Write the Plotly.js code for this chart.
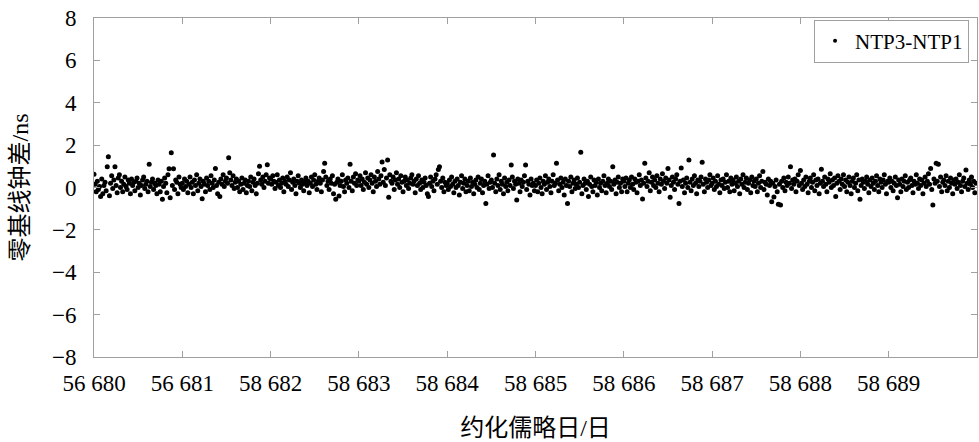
<!DOCTYPE html>
<html>
<head>
<meta charset="utf-8">
<script src="https://cdn.plot.ly/plotly-3.0.1.min.js"></script>
<style>
html,body{margin:0;padding:0;background:#fff;}
#chart{width:979px;height:442px;}
</style>
</head>
<body>
<div id="chart"></div>
<script>
// Sampling: 80 epochs per day, MJD 58680 .. 58690
const startMJD = 58680;
const perDay = 80;

// Clock difference NTP3-NTP1 (ns), one array per day
const day0 = [0.62,0.15,-0.2,0.3,-0.1,0.05,-0.43,0.4,-0.3,0.1,
0.25,-0.15,0.98,1.45,-0.39,0.2,0.55,-0.05,0.35,0.98,
0.1,-0.25,0.45,0.6,0.0,0.3,-0.2,0.15,0.5,0.05,
-0.1,0.35,0.2,-0.3,0.4,0.1,0.25,-0.15,0.3,0.45,
0.0,0.2,-0.35,0.1,0.35,0.5,-0.05,0.15,0.3,-0.2,
1.1,0.05,0.25,0.4,-0.1,0.2,0.1,-0.3,0.35,0.15,
-0.2,0.3,-0.56,0.05,0.45,0.2,-0.25,0.6,0.89,-0.48,
1.64,0.1,0.89,-0.1,0.35,0.25,-0.3,0.5,0.15,0.0];
const day1 = [0.2,-0.1,0.4,0.05,0.3,-0.25,0.15,0.5,0.0,0.25,
-0.3,0.35,0.1,0.6,-0.15,0.2,0.4,0.05,-0.53,0.3,
0.15,-0.2,0.45,0.1,0.3,-0.1,0.55,0.2,0.0,0.35,
0.9,0.1,-0.3,0.25,-0.43,0.4,0.15,0.6,0.05,0.3,
0.45,0.2,1.4,0.7,0.35,0.1,0.55,-0.05,0.25,0.4,
0.0,0.3,-0.2,0.15,0.45,-0.1,0.2,0.35,-0.25,0.1,
0.3,0.05,0.5,-0.15,0.25,0.4,0.1,-0.3,0.2,0.65,
1.0,0.35,0.15,0.5,0.0,0.3,0.6,1.07,0.2,0.45];
const day2 = [0.4,0.15,0.55,0.3,-0.05,0.25,0.6,0.1,0.35,0.0,
0.2,0.45,-0.2,0.3,0.15,0.5,0.05,0.35,0.7,-0.1,
0.25,0.4,0.1,-0.3,0.3,0.55,0.2,0.0,0.35,0.15,
-0.15,0.25,0.45,0.1,0.3,-0.25,0.2,0.5,0.05,0.35,
0.6,0.15,-0.1,0.3,0.45,0.2,-0.2,0.35,0.75,1.14,
0.5,0.1,0.3,-0.1,0.4,0.2,0.55,-0.3,0.15,-0.56,
0.25,0.4,-0.4,0.1,0.3,0.6,0.05,-0.2,0.35,0.2,
0.45,0.0,1.1,0.3,-0.15,0.5,0.2,0.65,0.1,0.35];
const day3 = [0.3,0.55,0.1,0.4,-0.1,0.25,0.7,0.15,0.45,0.0,
0.35,0.6,0.2,-0.2,0.5,0.3,0.05,0.75,0.4,0.15,
0.55,1.2,0.25,0.85,0.1,0.45,1.3,-0.46,0.6,0.3,
0.2,0.5,-0.1,0.35,0.7,0.15,0.4,0.0,0.55,0.25,
-0.2,0.3,0.5,0.1,0.35,-0.05,0.2,0.45,0.6,0.15,
0.3,-0.25,0.4,0.1,0.55,0.2,-0.1,0.35,0.0,0.25,
0.45,0.1,-0.3,-0.43,0.2,0.5,0.05,0.3,-0.15,0.4,
0.6,0.15,0.85,0.98,0.3,0.0,0.45,-0.2,0.25,0.1];
const day4 = [0.2,-0.1,0.35,0.05,0.5,0.15,-0.25,0.3,0.0,0.4,
0.1,-0.35,0.25,0.55,-0.05,0.2,0.4,-0.2,0.1,0.3,
-0.15,0.45,0.05,0.25,-0.3,0.15,0.35,0.0,0.5,-0.1,
0.2,0.4,-0.25,0.1,0.3,-0.75,0.15,0.55,-0.05,0.25,
0.35,0.0,1.53,0.2,-0.2,0.4,0.1,0.6,-0.1,0.3,
0.15,-0.3,0.45,0.05,0.25,-0.15,0.35,0.1,1.06,0.5,
-0.05,0.3,0.15,-0.59,0.4,0.2,-0.2,0.35,0.05,0.25,
0.55,1.06,-0.1,0.3,0.15,-0.35,0.4,0.1,0.2,-0.15];
const day5 = [0.1,0.35,-0.2,0.2,0.45,0.0,-0.3,0.3,0.15,0.55,
-0.1,0.25,0.4,0.05,-0.25,0.3,0.6,0.1,0.2,1.14,
0.35,-0.15,0.15,0.45,0.0,0.25,-0.35,0.4,0.1,-0.75,
0.3,0.05,0.5,-0.2,0.2,0.35,-0.05,0.15,0.45,0.0,
0.25,1.66,-0.3,0.1,0.4,0.2,-0.1,0.3,-0.43,0.15,
0.5,0.05,-0.2,0.35,0.1,0.25,-0.35,0.4,0.0,0.2,
-0.15,0.3,0.55,0.1,-0.25,0.2,0.4,0.05,0.3,-0.1,
0.98,0.15,0.35,-0.3,0.25,0.5,0.0,0.2,-0.2,0.4];
const day6 = [0.3,0.05,0.45,-0.2,0.2,0.35,0.0,0.5,0.15,-0.1,
0.4,0.25,-0.25,0.3,0.6,0.1,0.35,-0.54,0.2,1.14,
0.45,0.05,0.3,0.7,-0.15,0.25,0.5,0.1,0.35,0.0,
0.55,0.2,-0.2,0.4,0.15,0.65,0.3,-0.05,0.45,0.2,
0.9,0.35,-0.46,0.1,0.5,0.25,-0.1,0.4,0.6,0.15,
-0.75,0.3,0.92,0.05,0.35,-0.25,0.2,0.45,0.0,1.3,
0.25,-0.15,0.4,0.1,0.55,0.2,-0.3,0.35,0.05,0.3,
0.5,1.19,0.15,-0.2,0.4,0.25,0.0,0.35,0.6,0.1];
const day7 = [0.2,0.45,-0.1,0.3,0.05,0.55,0.15,-0.25,0.35,0.1,
0.4,-0.05,0.25,0.6,0.0,0.3,-0.2,0.45,0.15,0.35,
-0.15,0.2,0.5,0.05,0.3,-0.3,0.4,0.15,0.6,0.0,
0.25,0.45,-0.1,0.2,0.35,-0.25,0.5,0.1,0.3,0.05,
0.4,-0.2,0.2,0.55,0.0,0.3,0.75,-0.1,0.25,0.15,
-0.35,0.4,0.1,0.3,-0.67,0.2,-0.45,0.05,0.35,-0.2,
-0.79,0.15,-0.83,0.3,0.0,0.45,-0.15,0.25,0.1,0.5,
0.2,0.98,-0.05,0.35,0.15,0.4,-0.2,0.3,0.6,0.1];
const day8 = [0.8,0.2,-0.1,0.35,0.05,0.5,0.15,-0.25,0.3,0.45,
0.0,0.25,0.6,-0.15,0.35,0.1,0.4,-0.3,0.2,0.86,
0.3,0.05,0.5,0.15,-0.2,0.4,0.25,0.65,0.0,0.35,
0.1,0.45,-0.43,0.2,0.55,0.3,-0.1,0.4,0.15,0.6,
0.05,0.35,-0.2,0.25,0.5,0.1,-0.3,0.3,0.45,0.0,
0.2,0.6,-0.15,0.35,-0.56,0.1,0.4,0.25,-0.05,0.3,
0.5,0.15,-0.25,0.35,0.05,0.45,0.2,-0.1,0.3,0.55,
0.1,-0.2,0.4,0.25,0.0,0.35,0.6,0.15,-0.3,0.3];
const day9 = [0.25,0.45,0.0,0.3,-0.15,0.2,0.5,0.1,-0.48,0.35,
0.15,-0.2,0.4,0.05,0.3,0.55,-0.1,0.25,0.0,0.35,
0.45,0.1,-0.25,0.3,0.15,0.6,0.2,-0.05,0.4,0.1,
0.35,-0.3,0.2,0.5,0.05,0.3,0.65,0.15,0.9,-0.1,
-0.83,0.4,0.2,1.14,0.3,1.1,0.05,0.5,-0.2,0.25,
0.35,0.1,0.55,-0.15,0.3,0.0,0.45,0.2,-0.3,0.35,
0.15,0.4,-0.05,0.25,0.6,0.1,-0.2,0.3,0.45,0.05,
0.83,0.2,-0.1,0.35,0.15,0.5,0.0,0.3,-0.25,0.2];

const tickVals = [58680,58681,58682,58683,58684,58685,58686,58687,58688,58689];
const tickText = ["56 680","56 681","58 682","58 683","58 684","58 685","58 686","58 687","58 688","58 689"];
const yTickVals = [-8,-6,-4,-2,0,2,4,6,8];
const yTickText = ["\u22128","\u22126","\u22124","\u22122","0","2","4","6","8"];
const seriesName = "NTP3-NTP1";

const days = [day0,day1,day2,day3,day4,day5,day6,day7,day8,day9];
const xs = [], ys = [];
days.forEach((arr, d) => {
  arr.forEach((v, i) => { xs.push(startMJD + d + i / perDay); ys.push(v); });
});

const fontFam = 'Liberation Serif, Noto Sans CJK SC, serif';
const axisColor = '#a0a0a0';

const trace = {
  x: xs, y: ys, type: 'scatter', mode: 'markers', name: seriesName,
  marker: {color: '#000', size: 5},
  showlegend: true
};

const layout = {
  width: 979, height: 442,
  margin: {l: 94, r: 2, t: 18, b: 85},
  paper_bgcolor: '#fff', plot_bgcolor: '#fff',
  font: {family: fontFam, color: '#000', size: 22},
  xaxis: {
    range: [58680, 58690],
    tickmode: 'array', tickvals: tickVals, ticktext: tickText,
    showline: true, linecolor: axisColor, linewidth: 1, mirror: 'ticks',
    ticks: 'inside', ticklen: 6, tickcolor: axisColor, tickwidth: 1,
    showgrid: false, zeroline: false,
    tickfont: {family: fontFam, size: 23, color: '#000'},
    ticklabelstandoff: 5,
    title: {text: '约化儒略日/日', font: {family: fontFam, size: 24, color: '#000'}, standoff: 24}
  },
  yaxis: {
    range: [-8, 8],
    tickmode: 'array', tickvals: yTickVals, ticktext: yTickText,
    showline: true, linecolor: axisColor, linewidth: 1, mirror: 'ticks',
    ticks: 'inside', ticklen: 6, tickcolor: axisColor, tickwidth: 1,
    showgrid: false, zeroline: false,
    tickfont: {family: fontFam, size: 23, color: '#000'},
    ticklabelstandoff: 12,
    title: {text: '零基线钟差/ns', font: {family: fontFam, size: 24, color: '#000'}, standoff: 16}
  },
  legend: {
    x: 0.991, y: 0.995, xanchor: 'right', yanchor: 'top',
    bgcolor: '#fff', bordercolor: axisColor, borderwidth: 1,
    font: {family: fontFam, size: 21, color: '#000'},
    itemsizing: 'constant'
  }
};

Plotly.newPlot('chart', [trace], layout, {displayModeBar: false, staticPlot: true}).then(() => {
  // shrink the legend dot to the small bullet of the reference
  document.querySelectorAll('.legend .scatterpts').forEach(p => {
    p.setAttribute('d', 'M2,0A2,2 0 1,1 0,-2A2,2 0 0,1 2,0Z');
  });
});
</script>
</body>
</html>
